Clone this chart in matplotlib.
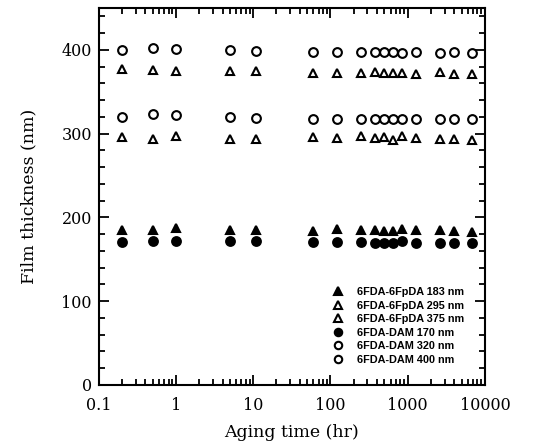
import matplotlib
matplotlib.use("Agg")
import matplotlib.pyplot as plt
from matplotlib.ticker import MultipleLocator, FixedLocator, FixedFormatter, LogLocator, NullFormatter

time_hr = [0.2, 0.5, 1, 5, 11, 60, 120, 250, 380, 500, 650, 850, 1300, 2600, 4000, 6800]

fpda_183 = [185, 185, 187, 185, 185, 184, 186, 185, 185, 184, 184, 186, 185, 185, 184, 183]
fpda_295 = [296, 294, 297, 294, 294, 296, 295, 297, 295, 296, 293, 297, 295, 294, 294, 292]
fpda_375 = [377, 376, 375, 375, 375, 373, 372, 372, 374, 373, 373, 373, 371, 374, 371, 371]
dam_170 = [171, 172, 172, 172, 172, 171, 171, 171, 170, 170, 170, 172, 170, 170, 169, 170]
dam_320 = [320, 323, 322, 320, 319, 318, 318, 318, 317, 318, 318, 318, 318, 317, 317, 317]
dam_400 = [400, 402, 401, 400, 399, 397, 397, 397, 397, 397, 397, 396, 397, 396, 397, 396]

labels = ["6FDA-6FpDA 183 nm", "6FDA-6FpDA 295 nm", "6FDA-6FpDA 375 nm",
          "6FDA-DAM 170 nm", "6FDA-DAM 320 nm", "6FDA-DAM 400 nm"]

xticks = [0.1, 1, 10, 100, 1000, 10000]
xticklabels = ["0.1", "1", "10", "100", "1000", "10000"]
yticks = [0, 100, 200, 300, 400]

fig = plt.figure(figsize=(5.37, 4.45), dpi=100)
ax = fig.add_axes([0.184, 0.135, 0.719, 0.847])

ms = 6.3
mew = 1.5
series = [
    (fpda_183, "^", "black"),
    (fpda_295, "^", "none"),
    (fpda_375, "^", "none"),
    (dam_170, "o", "black"),
    (dam_320, "o", "none"),
    (dam_400, "o", "none"),
]
for (vals, mk, fc), lab in zip(series, labels):
    ax.plot(time_hr, vals, linestyle="none", marker=mk, markersize=ms,
            markerfacecolor=fc, markeredgecolor="black", markeredgewidth=mew,
            label=lab)

ax.set_xscale("log")
ax.set_xlim(0.1, 10000)
ax.set_ylim(0, 450)
ax.xaxis.set_major_locator(FixedLocator(xticks))
ax.xaxis.set_major_formatter(FixedFormatter(xticklabels))
ax.xaxis.set_minor_locator(LogLocator(base=10, subs=range(2, 10), numticks=20))
ax.xaxis.set_minor_formatter(NullFormatter())
ax.yaxis.set_major_locator(FixedLocator(yticks))
ax.yaxis.set_minor_locator(MultipleLocator(20))

ax.tick_params(which="both", direction="in", top=True, right=True, width=1.3)
ax.tick_params(which="major", length=7)
ax.tick_params(which="minor", length=4)
for sp in ax.spines.values():
    sp.set_linewidth(1.5)

for t in ax.get_xticklabels() + ax.get_yticklabels():
    t.set_fontfamily("DejaVu Serif")
    t.set_fontsize(11.5)
ax.tick_params(axis="x", pad=9)
ax.tick_params(axis="y", pad=5)

ax.set_xlabel("Aging time (hr)", fontfamily="DejaVu Serif", fontsize=12.5, labelpad=7)
ax.set_ylabel("Film thickness (nm)", fontfamily="DejaVu Serif", fontsize=12.5, labelpad=17)

fs = 7.8
ax_l, ax_w, ax_t, ax_h = 99, 386, 8, 377
x0 = (332.6 - ax_l) / ax_w
y0 = (ax_t + ax_h - 287) / ax_h
leg = ax.legend(loc="upper left", bbox_to_anchor=(x0, y0), frameon=False,
                prop={"family": "Liberation Sans", "weight": "bold", "size": fs},
                borderpad=0, borderaxespad=0,
                handletextpad=1.25, labelspacing=0.33, handlelength=1.0,
                markerscale=0.85)

fig.savefig("out.png", dpi=100)
